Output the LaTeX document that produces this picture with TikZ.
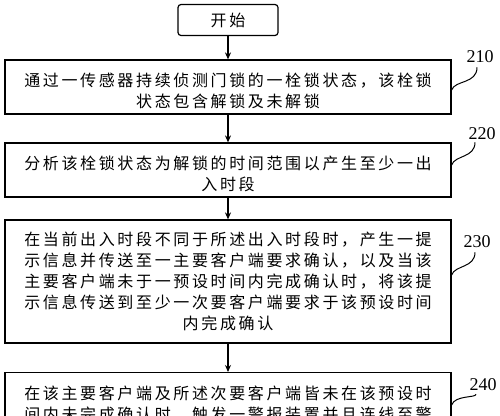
\documentclass[tikz,border=0pt]{standalone}
\usepackage{fontspec}
\setmainfont{Liberation Serif}
\newfontfamily\cjk[LetterSpace=16.5]{Noto Sans CJK SC}
\usetikzlibrary{arrows.meta}
\begin{document}
\begin{tikzpicture}[x=1pt,y=1pt,
  box/.style={draw, line width=1.2pt, minimum width=446pt, align=center,
    font=\cjk\fontsize{16}{21}\selectfont, inner sep=0pt},
  startbox/.style={draw, line width=1.2pt, rounded corners=3pt, minimum width=100pt,
    minimum height=31pt, font=\cjk\fontsize{16}{21}\selectfont},
  arr/.style={line width=1.2pt, -{Stealth[length=7pt,width=6pt]}},
  lead/.style={line width=1pt},
  num/.style={font=\fontsize{18}{18}\selectfont, inner sep=0pt}]
\useasboundingbox (0,0) rectangle (500,-415);
\clip (0,0) rectangle (500,-415);
\node[startbox] (s) at (228,-20) {开始};
\node[box, minimum height=54pt] (b1) at (228,-87) {\rule{0pt}{22pt}通过一传感器持续侦测门锁的一栓锁状态，该栓锁\\状态包含解锁及未解锁};
\node[box, minimum height=54pt] (b2) at (228,-170) {\rule{0pt}{22pt}分析该栓锁状态为解锁的时间范围以产生至少一出\\入时段};
\node[box, minimum height=123pt] (b3) at (228,-281.5) {在当前出入时段不同于所述出入时段时，产生一提\\示信息并传送至一主要客户端要求确认，以及当该\\主要客户端未于一预设时间内完成确认时，将该提\\示信息传送到至少一次要客户端要求于该预设时间\\内完成确认};
\node[box, anchor=north, inner ysep=13pt] (b4) at (228,-372) {在该主要客户端及所述次要客户端皆未在该预设时\\间内未完成确认时，触发一警报装置并且连线至警};
\draw[arr] (s) -- (b1);
\draw[arr] (b1) -- (b2);
\draw[arr] (b2) -- (b3);
\draw[arr] (b3.south) -- (b4.north);
\node[num] (n1) at (480,-57) {210};
\node[num] (n2) at (482,-134) {220};
\node[num] (n3) at (477,-242) {230};
\node[num] (n4) at (483,-385) {240};
\coordinate (e1) at (b1.east |- 0,-90);
\coordinate (e2) at (b2.east |- 0,-165);
\coordinate (e3) at (b3.east |- 0,-275);
\coordinate (e4) at (b4.east |- 0,-405);
\draw[lead] (e1) .. controls (455,-80) and (477,-84) .. ([xshift=-3pt,yshift=-4pt]n1.south);
\draw[lead] (e2) .. controls (455,-155) and (475,-158) .. ([xshift=-7pt,yshift=-2pt]n2.south);
\draw[lead] (e3) .. controls (455,-265) and (475,-268) .. ([xshift=-2pt,yshift=-4pt]n3.south);
\draw[lead] (e4) .. controls (455,-395) and (476,-398) .. ([xshift=-7pt,yshift=-3pt]n4.south);
\end{tikzpicture}
\end{document}
